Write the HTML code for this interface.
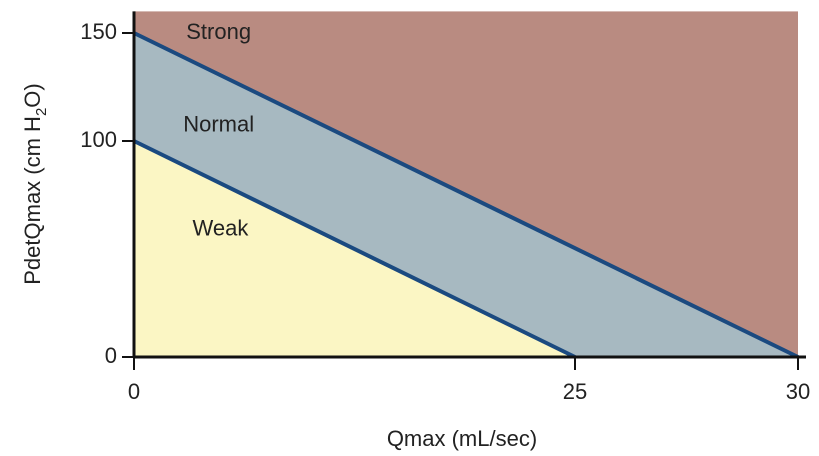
<!DOCTYPE html>
<html><head><meta charset="utf-8"><style>
html,body{margin:0;padding:0;background:#fff;width:819px;height:456px;overflow:hidden}
svg text{font-family:"Liberation Sans",Arial,sans-serif;fill:#222}
</style></head><body>
<svg id="chart" width="819" height="456" viewBox="0 0 819 456"></svg>
<script>
const xTicks=[0,25,30];
const yTicks=[0,100,150];
const weakLine=[[0,100],[25,0]];
const strongLine=[[0,150],[30,0]];
const regionNames=["Strong","Normal","Weak"];
const regionLabelPos=[[4.8,150],[4.8,107],[4.9,59]];
const xMax=30,yMax=160;
const X0=134,X25=575,X1=798,Y0=357,Y1=11.4;
// schematic (piecewise) x scale as in the reference figure
const sx=v=>v<=25?X0+(X25-X0)*v/25:X25+(X1-X25)*(v-25)/(xMax-25);
const sy=v=>Y0-(Y0-Y1)*v/yMax;
const svg=document.getElementById('chart');
const NS='http://www.w3.org/2000/svg';
function mk(t,a,txt){const e=document.createElementNS(NS,t);for(const k in a)e.setAttribute(k,a[k]);if(txt!=null)e.textContent=txt;svg.appendChild(e);return e;}
let e;
e=mk('rect',{x:sx(0),y:sy(yMax),width:sx(xMax)-sx(0),height:sy(0)-sy(yMax),fill:'#b98b81'});


e=mk('polygon',{points:`${sx(strongLine[0][0])},${sy(strongLine[0][1])} ${sx(strongLine[1][0])},${sy(strongLine[1][1])} ${sx(0)},${sy(0)}`,fill:'#a7b9c1'});


e=mk('polygon',{points:`${sx(weakLine[0][0])},${sy(weakLine[0][1])} ${sx(weakLine[1][0])},${sy(weakLine[1][1])} ${sx(0)},${sy(0)}`,fill:'#fbf6c4'});


e=mk('line',{x1:sx(weakLine[0][0]),y1:sy(weakLine[0][1]),x2:sx(weakLine[1][0]),y2:sy(weakLine[1][1]),stroke:'#1b4a80','stroke-width':4});


e=mk('line',{x1:sx(strongLine[0][0]),y1:sy(strongLine[0][1]),x2:sx(strongLine[1][0]),y2:sy(strongLine[1][1]),stroke:'#1b4a80','stroke-width':4});


regionNames.forEach((n,i)=>{
  const t=mk('text',{x:sx(regionLabelPos[i][0]),y:sy(regionLabelPos[i][1]),'font-size':22,'text-anchor':'middle','dominant-baseline':'middle'},n);
  
  
});
e=mk('line',{x1:X0,y1:Y1,x2:X0,y2:Y0+1,stroke:'#111','stroke-width':3});


e=mk('line',{x1:X0-1,y1:Y0,x2:806,y2:Y0,stroke:'#111','stroke-width':3});


yTicks.forEach(v=>{
  const l=mk('line',{x1:X0-12,y1:sy(v),x2:X0,y2:sy(v),stroke:'#111','stroke-width':2});
  
  
  const t=mk('text',{x:X0-17,y:sy(v),'font-size':22,'text-anchor':'end','dominant-baseline':'middle'},v);
  
  
});
xTicks.forEach(v=>{
  const l=mk('line',{x1:sx(v),y1:Y0,x2:sx(v),y2:Y0+13,stroke:'#111','stroke-width':2});
  
  
  const t=mk('text',{x:sx(v),y:399,'font-size':22,'text-anchor':'middle'},v);
  
  
});
e=mk('text',{x:462,y:446,'font-size':22,'text-anchor':'middle'},'Qmax (mL/sec)');


e=mk('text',{x:0,y:0,'font-size':22,'text-anchor':'middle',transform:'translate(40,184) rotate(-90)'});


e.innerHTML='PdetQmax (cm H<tspan font-size="15" dy="6">2</tspan><tspan dy="-6">O)</tspan>';
</script>
</body></html>
